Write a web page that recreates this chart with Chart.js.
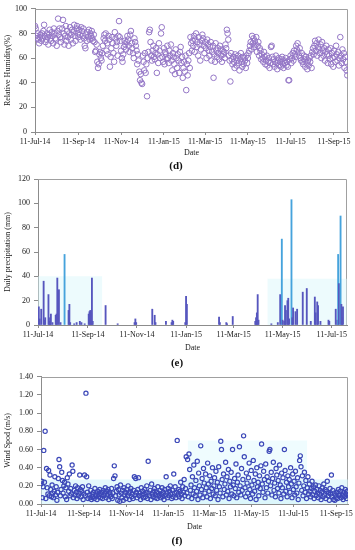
<!DOCTYPE html>
<html><head><meta charset="utf-8">
<script src="https://cdn.jsdelivr.net/npm/chart.js@4.4.1/dist/chart.umd.min.js"></script>
<style>
html,body{margin:0;padding:0;background:#fff;width:355px;height:550px;overflow:hidden;position:relative;}
canvas{position:absolute;left:0;}
.tag{position:absolute;font:bold 11px "Liberation Serif","Times New Roman",serif;color:#111;transform:translate(-50%,-50%);white-space:nowrap;}
</style></head><body>
<canvas id="cd" width="355" height="160" style="top:0px;width:355px;height:160px"></canvas>
<canvas id="ce" width="355" height="185" style="top:170px;width:355px;height:185px"></canvas>
<canvas id="cf" width="355" height="166" style="top:368px;width:355px;height:166px"></canvas>
<div class="tag" style="left:176px;top:165px">(d)</div>
<div class="tag" style="left:177px;top:362px">(e)</div>
<div class="tag" style="left:177px;top:540px">(f)</div>
<script>
// ---- tick positions (days after 11-Jul-14) and labels ----
const tickDays = [0, 62, 123, 184, 243, 304, 365, 427];
const tickLabels = ['11-Jul-14','11-Sep-14','11-Nov-14','11-Jan-15','11-Mar-15','11-May-15','11-Jul-15','11-Sep-15'];

// ---- (d) daily relative humidity (%), day 0 = 11-Jul-14 ----
const humidity = [
86,84,78,76,80,75,72,77,79,74,80,76,82,87,78,73,75,80,77,71,79,83,76,74,81,78,72,84,80,76,
75,70,82,92,79,84,77,73,76,84,91,80,71,78,86,74,82,77,70,80,85,75,79,83,72,81,87,78,74,84,
86,80,77,83,79,75,85,82,78,84,76,70,68,79,74,81,77,83,75,80,78,82,76,74,79,73,65,66,71,57,
52,55,63,65,60,58,64,70,76,79,74,80,66,72,63,78,75,53,61,68,77,72,64,57,81,76,70,73,62,78,
90,77,74,66,60,57,63,69,74,71,67,73,78,75,70,65,79,82,72,68,64,60,76,73,70,66,55,63,58,49,
42,47,40,39,62,57,50,64,48,55,29,60,65,81,83,73,62,58,66,70,61,59,64,68,48,63,56,72,66,60,
80,85,61,57,68,55,65,63,59,70,60,56,66,62,71,58,50,64,61,55,47,67,60,52,63,58,48,65,69,56,
61,44,52,57,49,62,34,55,46,58,64,52,77,72,66,74,70,78,65,75,80,69,73,62,77,71,58,67,74,79,
76,70,64,73,68,60,75,71,66,62,69,73,58,65,70,44,63,57,72,66,61,68,64,59,70,67,62,57,66,63,
65,60,71,68,83,80,75,62,58,41,64,59,55,61,57,52,63,60,54,58,62,56,50,59,64,57,53,61,55,60,
58,52,62,56,60,64,66,70,73,67,78,72,76,69,74,71,77,65,70,73,62,68,66,59,63,60,57,65,61,55,
58,62,54,57,60,52,56,69,70,61,55,59,53,57,62,56,51,58,60,54,57,53,59,61,55,52,58,56,60,54,
57,53,42,42,59,62,56,60,64,58,66,63,61,70,67,72,65,62,68,60,58,64,57,55,62,59,53,61,56,51,
58,54,60,57,62,52,65,68,63,70,74,66,72,62,69,75,67,64,71,60,73,66,62,68,58,65,70,63,56,67,
62,59,68,55,64,60,53,66,61,57,70,63,58,65,54,60,77,62,56,67,59,64,52,61,57,50,46
];

// ---- (e) daily precipitation (mm): rain days and amounts ----
const rainDays = [1,2,4,7,8,9,13,14,15,16,18,22,23,24,26,28,33,38,39,40,45,48,52,54,58,63,64,65,66,67,68,84,99,120,121,122,142,145,146,159,166,167,168,183,184,185,225,226,234,235,242,270,271,272,273,274,290,298,301,303,304,306,307,308,310,311,312,315,316,317,320,322,329,334,339,344,345,347,348,351,361,362,370,372,373,374,376,377,378,379];
const rainValues = [15,5,13,36,4,6,25,3,6,9,2,8,9,38.6,29,2,58,12,17,2,1,2,3,2,1,9,11,12,10,38.6,3,16,1,2,5,2,13,8,2,3,2,4,3,2,23.5,17,6.5,2,2,1,7,3,6,10,25,4,1,2,25,70.6,4,3,16,12,20,22,5,103,6,14,11,13,27,30,3,23,10,19,16,3,4,3,13,4,58,34,89.6,17,6,15];

// ---- (f) daily wind speed (m/s) ----
const windSpeed = [
0.22,0.25,0.07,0.19,0.59,0.24,0.80,0.06,0.39,0.18,0.11,0.37,0.09,0.32,0.16,0.08,0.21,0.12,0.07,0.14,0.30,0.10,0.19,0.04,0.13,0.28,0.49,0.41,0.09,0.16,
0.35,0.26,0.12,0.20,0.24,0.08,0.18,0.05,0.29,0.22,0.14,0.33,0.09,0.17,0.11,0.43,0.36,0.07,0.15,0.10,0.20,0.13,0.06,0.18,0.09,0.12,0.32,0.16,0.08,0.14,
0.19,0.05,0.11,0.32,0.09,1.22,0.30,0.13,0.06,0.20,0.10,0.07,0.15,0.05,0.11,0.08,0.13,0.06,0.17,0.09,0.12,0.05,0.14,0.08,0.11,0.16,0.07,0.10,0.13,0.06,
0.15,0.09,0.12,0.18,0.07,0.14,0.10,0.16,0.05,0.13,0.11,0.08,0.17,0.06,0.12,0.28,0.42,0.31,0.09,0.14,0.19,0.04,0.16,0.10,0.03,0.21,0.12,0.07,0.15,0.04,
0.18,0.10,0.13,0.06,0.16,0.09,0.20,0.12,0.05,0.14,0.17,0.08,0.11,0.06,0.15,0.30,0.10,0.28,0.13,0.07,0.16,0.29,0.09,0.12,0.05,0.18,0.10,0.14,0.07,0.11,
0.16,0.08,0.13,0.20,0.06,0.47,0.12,0.09,0.15,0.05,0.22,0.11,0.08,0.14,0.17,0.07,0.10,0.13,0.06,0.19,0.12,0.09,0.15,0.07,0.11,0.18,0.08,0.13,0.05,0.16,
0.10,0.30,0.12,0.07,0.17,0.09,0.14,0.20,0.11,0.06,0.15,0.08,0.33,0.12,0.19,0.07,0.13,0.70,0.10,0.16,0.08,0.14,0.24,0.11,0.06,0.19,0.13,0.27,0.09,0.17,
0.52,0.12,0.49,0.08,0.55,0.38,0.15,0.21,0.06,0.30,0.11,0.43,0.18,0.09,0.26,0.14,0.47,0.05,0.34,0.20,0.10,0.64,0.16,0.28,0.07,0.39,0.23,0.12,0.33,0.18,
0.08,0.45,0.22,0.14,0.31,0.06,0.25,0.17,0.40,0.11,0.20,0.29,0.09,0.36,0.15,0.24,0.05,0.41,0.19,0.12,0.69,0.60,0.27,0.08,0.33,0.16,0.22,0.46,0.10,0.30,
0.14,0.38,0.06,0.25,0.19,0.35,0.11,0.60,0.21,0.09,0.28,0.17,0.44,0.07,0.24,0.32,0.13,0.63,0.20,0.10,0.39,0.15,0.27,0.75,0.52,0.18,0.08,0.34,0.23,0.12,
0.29,0.45,0.16,0.06,0.37,0.21,0.11,0.48,0.26,0.14,0.33,0.05,0.40,0.19,0.24,0.09,0.31,0.17,0.42,0.66,0.22,0.13,0.36,0.27,0.07,0.44,0.18,0.30,0.12,0.25,
0.58,0.60,0.20,0.35,0.10,0.28,0.46,0.15,0.23,0.08,0.39,0.32,0.17,0.26,0.12,0.43,0.21,0.06,0.34,0.18,0.29,0.11,0.60,0.37,0.14,0.24,0.08,0.31,0.19,0.27,
0.13,0.40,0.22,0.07,0.33,0.16,0.25,0.10,0.36,0.19,0.12,0.29,0.05,0.23,0.48,0.53,0.41,0.15,0.31,0.09,0.20,0.35,0.13,0.26,0.06,0.18,0.30,0.11,0.22,0.14,
0.08,0.17,0.25,0.10,0.19,0.06,0.14,0.21,0.09,0.16,0.12,0.07,0.20,0.11,0.15,0.05,0.13,0.18,0.08,0.22,0.10,0.16,0.06,0.14,0.25,0.09,0.12,0.04,0.17,0.11,
0.32,0.08,0.15,0.05,0.12,0.04,0.10,0.07,0.13,0.06,0.16,0.09,0.11,0.14,0.07,0.18,0.10,0.05,0.13,0.08,0.16,0.11,0.06,0.14,0.09
];

// ---- light background haze bands seen in (e) and (f) ----
const rainHazeStart = [0, 285];
const rainHazeEnd = [80, 384];
const rainHazeTop = [40, 38];
const windHazeStart = [0, 212];
const windHazeEnd = [444, 385];
const windHazeTop = [0.27, 0.70];

const F = '"Liberation Serif","Times New Roman",serif';
const TXT = '#1a1a1a';
const AX = '#8c8c8c';
Chart.defaults.font.family = F;
Chart.defaults.animation = false;

const framePlugin = {
  id: 'frame',
  beforeDatasetsDraw(chart) {
    const {ctx, chartArea: a} = chart;
    ctx.save();
    ctx.strokeStyle = '#a0a0a0';
    ctx.lineWidth = 1;
    ctx.beginPath();
    const t = Math.round(a.top) + 0.5, r = Math.round(a.right) - 0.5;
    ctx.moveTo(Math.round(a.left), t);
    ctx.lineTo(r, t);
    ctx.lineTo(r, Math.round(a.bottom));
    ctx.stroke();
    ctx.restore();
  }
};

function xAxis(max, h) {
  return {
    type: 'linear', min: 0, max: max, offset: false,
    afterBuildTicks: s => { s.ticks = tickDays.filter(d => d <= max).map(v => ({value: v})); },
    afterFit: s => { s.height = h; },
    ticks: {autoSkip: false, maxRotation: 0, minRotation: 0, padding: 2, color: TXT, font: {family: F, size: 8},
      callback: v => tickLabels[tickDays.indexOf(v)]},
    grid: {display: true, drawOnChartArea: false, drawTicks: true, tickLength: 3, color: AX, offset: false},
    border: {display: true, color: AX, width: 1},
    title: {display: true, text: 'Date', color: TXT, font: {family: F, size: 8}, padding: {top: 0, bottom: 2}}
  };
}
function yAxis(max, step, w, title, dec) {
  return {
    type: 'linear', min: 0, max: max,
    afterFit: s => { s.width = w; },
    ticks: {stepSize: step, padding: 4, color: TXT, font: {family: F, size: 8}, callback: v => Number(v).toFixed(dec)},
    grid: {display: true, drawOnChartArea: false, drawTicks: true, tickLength: 4, color: AX},
    border: {display: true, color: AX, width: 1},
    title: {display: true, text: title, color: TXT, font: {family: F, size: 8}, padding: {top: 3, bottom: 0}}
  };
}
const basePlugins = {legend: {display: false}, tooltip: {enabled: false}};

function hazeSets(starts, ends, tops, colors) {
  return starts.map((s, i) => ({
    type: 'line', data: [{x: s, y: tops[i]}, {x: ends[i], y: tops[i]}],
    fill: 'origin', backgroundColor: colors[i], borderWidth: 0, pointRadius: 0, order: 10 + i
  }));
}

// (d)
new Chart(document.getElementById('cd'), {
  type: 'scatter',
  data: {datasets: [{
    data: humidity.map((v, i) => ({x: i, y: v})),
    pointRadius: 2.8, borderWidth: 1, borderColor: '#9476c6', backgroundColor: 'rgba(255,255,255,0)', order: 1
  }]},
  options: {responsive: false, layout: {padding: {top: 7, right: 7, left: 0, bottom: 0}},
    plugins: basePlugins,
    scales: {x: xAxis(447, 28), y: yAxis(100, 20, 35, 'Relative Humidity(%)', 0)}},
  plugins: [framePlugin]
});

// (e)
new Chart(document.getElementById('ce'), {
  type: 'bar',
  data: {datasets: [{
    type: 'bar',
    data: rainDays.map((d, i) => ({x: d, y: rainValues[i]})),
    barThickness: 1.2,
    backgroundColor: c => (c.raw && c.raw.y >= 55) ? '#46a3dc' : '#5656be',
    borderWidth: 0, order: 1
  }].concat(hazeSets(rainHazeStart, rainHazeEnd, rainHazeTop, ['rgba(214,246,251,0.45)', 'rgba(214,246,251,0.45)']))},
  options: {responsive: false, layout: {padding: {top: 9, right: 8, left: 0, bottom: 0}},
    plugins: basePlugins,
    scales: {x: xAxis(384, 30), y: yAxis(120, 20, 38, 'Daily precipitation (mm)', 0)}},
  plugins: [framePlugin]
});

// (f)
new Chart(document.getElementById('cf'), {
  type: 'scatter',
  data: {datasets: [{
    data: windSpeed.map((v, i) => ({x: i, y: v})),
    pointRadius: 2.1, borderWidth: 1.2, borderColor: '#3c48b8', backgroundColor: 'rgba(255,255,255,0)', order: 1
  }].concat(hazeSets(windHazeStart, windHazeEnd, windHazeTop, ['rgba(205,243,249,0.55)', 'rgba(220,248,252,0.45)']))},
  options: {responsive: false, layout: {padding: {top: 8, right: 6, left: 0, bottom: 0}},
    plugins: basePlugins,
    scales: {x: xAxis(444, 30), y: yAxis(1.4, 0.2, 41, 'Wind Spod (m/s)', 2)}},
  plugins: [framePlugin]
});
</script>
</body></html>
